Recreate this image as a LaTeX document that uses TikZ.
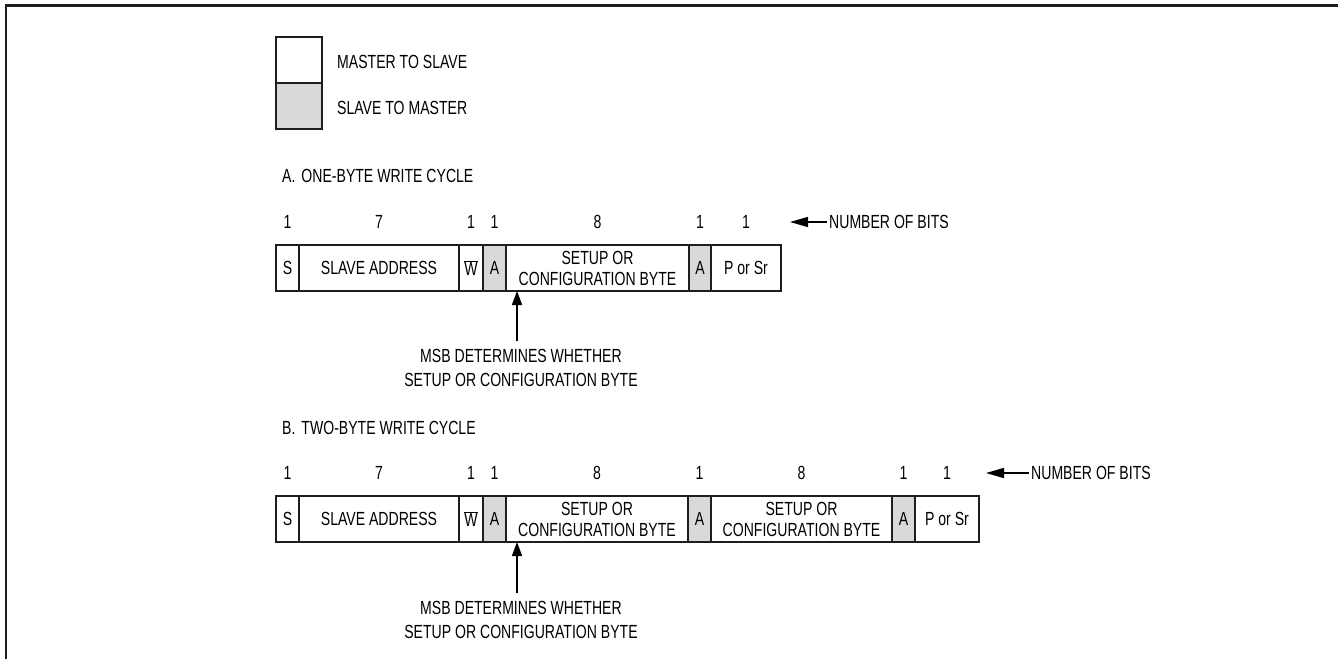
\documentclass[tikz,border=0pt]{standalone}
\usepackage{fontspec}
\setmainfont{Liberation Sans}[FakeStretch=0.74]
\usetikzlibrary{arrows.meta,positioning}
\definecolor{AckClr}{RGB}{217,217,217}
\definecolor{LineClr}{RGB}{30,30,30}
\newcommand{\fs}{\fontsize{19pt}{21pt}\selectfont}
\newcommand{\fsw}{\fontsize{19pt}{24pt}\selectfont}

\tikzset{
  fld/.style={draw=LineClr,line width=1.8pt,minimum height=46pt,inner sep=0pt,outer sep=0pt,align=center,font=\fs},
  ack/.style={fld,fill=AckClr,minimum width=23pt},
  bitnum/.style={font=\fs,inner sep=0pt},
  msbtxt/.style={font=\fsw,inner sep=0pt,align=center},
  txt/.style={font=\fs,inner sep=0pt,anchor=west},
  bitarrow/.style={line width=1.6pt,-{Triangle[length=18pt,width=10pt]}},
  msbarrow/.style={line width=1.6pt,-{Triangle[length=14pt,width=10pt]}}
}

\begin{document}
\begin{tikzpicture}[x=1pt,y=-1pt]
\useasboundingbox (0,0) rectangle (1338,659);

% frame
\draw[LineClr,line width=2.5pt] (1338,5.5) -- (6.2,5.5) -- (6.2,659);

% legend
\node[fld,minimum width=46pt,anchor=north west] (M2S) at (276,37) {};
\node[fld,fill=AckClr,minimum width=46pt,below=0pt of M2S] (S2M) {};
\node[txt] (LM2S) at ([xshift=15pt,yshift=-2pt]M2S.east) {MASTER TO SLAVE};
\node[txt] (LS2M) at ([xshift=15pt,yshift=-2pt]S2M.east) {SLAVE TO MASTER};

% A. one-byte write cycle
\node[txt] (TA) at (282,176) {A.\hspace{6pt}ONE-BYTE WRITE CYCLE};

\node[fld,minimum width=23pt,anchor=west] (S1) at (276,268) {S};
\node[fld,minimum width=160pt,right=0pt of S1] (ADR1) {SLAVE ADDRESS};
\node[fld,minimum width=24pt,right=0pt of ADR1] (W1) {$\overline{\mbox{W}}$};
\node[ack,right=0pt of W1] (AK1) {A};
\node[fld,minimum width=183pt,right=0pt of AK1] (SET1) {SETUP OR\\CONFIGURATION BYTE};
\node[ack,minimum width=22pt,right=0pt of SET1] (AKK1) {A};
\node[fld,minimum width=70pt,right=0pt of AKK1] (PS1) {P or Sr};

\foreach \f/\n in {S1/1,ADR1/7,W1/1,AK1/1,SET1/8,AKK1/1,PS1/1}
  \node[bitnum] (n\f) at ([yshift=23pt]\f.north) {\n};

\node[txt] (NB1) at (829,222) {NUMBER OF BITS};
\coordinate (BT1) at (790,222);
\draw[bitarrow] ([xshift=-2pt]NB1.west) -- (BT1);

\coordinate (M1) at ([xshift=11pt]SET1.south west);
\node[msbtxt] (MSB1) at (521,368) {MSB DETERMINES WHETHER\\SETUP OR CONFIGURATION BYTE};
\draw[msbarrow] ([yshift=8pt]MSB1.north -| M1) -- (M1);

% B. two-byte write cycle
\node[txt] (TB) at (282,428) {B.\hspace{6pt}TWO-BYTE WRITE CYCLE};

\node[fld,minimum width=23pt,anchor=west] (S2) at (276,519) {S};
\node[fld,minimum width=160pt,right=0pt of S2] (ADR2) {SLAVE ADDRESS};
\node[fld,minimum width=24pt,right=0pt of ADR2] (W2) {$\overline{\mbox{W}}$};
\node[ack,right=0pt of W2] (AK2) {A};
\node[fld,minimum width=182pt,right=0pt of AK2] (SET2) {SETUP OR\\CONFIGURATION BYTE};
\node[ack,right=0pt of SET2] (AKK2) {A};
\node[fld,minimum width=181pt,right=0pt of AKK2] (SETT2) {SETUP OR\\CONFIGURATION BYTE};
\node[ack,right=0pt of SETT2] (AKKK2) {A};
\node[fld,minimum width=64pt,right=0pt of AKKK2] (PS2) {P or Sr};

\foreach \f/\n in {S2/1,ADR2/7,W2/1,AK2/1,SET2/8,AKK2/1,SETT2/8,AKKK2/1,PS2/1}
  \node[bitnum] (n\f) at ([yshift=23pt]\f.north) {\n};

\node[txt] (NB2) at (1031,473) {NUMBER OF BITS};
\coordinate (BT2) at (986,473);
\draw[bitarrow] ([xshift=-2pt]NB2.west) -- (BT2);

\coordinate (M2) at ([xshift=11pt]SET2.south west);
\node[msbtxt] (MSB2) at (521,620) {MSB DETERMINES WHETHER\\SETUP OR CONFIGURATION BYTE};
\draw[msbarrow] ([yshift=8pt]MSB2.north -| M2) -- (M2);

\end{tikzpicture}
\end{document}
